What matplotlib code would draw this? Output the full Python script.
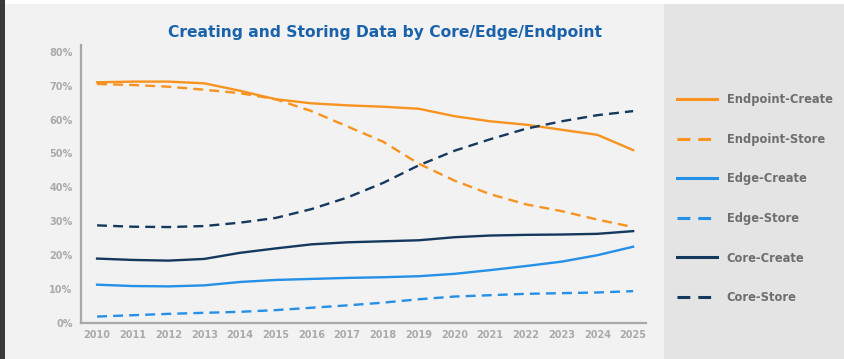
import matplotlib
matplotlib.use("Agg")
import matplotlib.pyplot as plt
from matplotlib.patches import Rectangle

years = list(range(2010, 2026))
endpoint_create = [71.0, 71.2, 71.2, 70.7, 68.5, 66.0, 64.8, 64.2, 63.8, 63.2, 61.0, 59.5, 58.5, 57.0, 55.5, 51.0]
endpoint_store = [70.5, 70.2, 69.7, 68.8, 67.8, 66.0, 62.5, 58.0, 53.5, 47.0, 42.0, 38.0, 35.0, 33.0, 30.5, 28.3]
edge_create = [11.3, 10.9, 10.8, 11.1, 12.1, 12.7, 13.0, 13.3, 13.5, 13.8, 14.5, 15.6, 16.8, 18.1, 20.0, 22.5]
edge_store = [1.9, 2.3, 2.7, 3.0, 3.3, 3.8, 4.5, 5.2, 6.0, 7.0, 7.8, 8.2, 8.6, 8.8, 9.0, 9.4]
core_create = [19.0, 18.6, 18.4, 18.9, 20.7, 22.0, 23.2, 23.8, 24.1, 24.4, 25.3, 25.8, 26.0, 26.1, 26.3, 27.1]
core_store = [28.8, 28.4, 28.3, 28.6, 29.6, 31.0, 33.6, 37.0, 41.3, 46.5, 50.8, 54.2, 57.3, 59.5, 61.3, 62.5]
yticks = [0, 10, 20, 30, 40, 50, 60, 70, 80]
ytick_labels = ["0%", "10%", "20%", "30%", "40%", "50%", "60%", "70%", "80%"]
title = "Creating and Storing Data by Core/Edge/Endpoint"

ORANGE = "#f7931e"
LBLUE = "#2490e8"
NAVY = "#15385e"
FONT = "DejaVu Sans"

W, H = 845, 359
fig = plt.figure(figsize=(W / 100, H / 100), dpi=100)
fig.patch.set_facecolor("#f2f2f2")

def fx(px):
    return px / W

def fy(py):
    return 1 - py / H

# background panels
fig.patches.append(Rectangle((fx(664), 0), 1 - fx(664), fy(4), transform=fig.transFigure,
                             facecolor="#e4e4e4", edgecolor="none", zorder=0))
fig.patches.append(Rectangle((0, fy(4)), 1, 1 - fy(4), transform=fig.transFigure,
                             facecolor="#ffffff", edgecolor="none", zorder=0))
fig.patches.append(Rectangle((0, 0), fx(5), 1, transform=fig.transFigure,
                             facecolor="#3a3a3a", edgecolor="none", zorder=1))

ax = fig.add_axes([fx(81), fy(323), fx(646) - fx(81), fy(45) - fy(323)])
ax.set_facecolor("none")

dash = (0, (4.2, 2.6))
lw = 1.7
series = [
    ("Endpoint-Create", endpoint_create, ORANGE, "-"),
    ("Endpoint-Store", endpoint_store, ORANGE, dash),
    ("Edge-Create", edge_create, LBLUE, "-"),
    ("Edge-Store", edge_store, LBLUE, dash),
    ("Core-Create", core_create, NAVY, "-"),
    ("Core-Store", core_store, NAVY, dash),
]
handles = []
for name, vals, col, ls in series:
    h, = ax.plot(years, vals, color=col, linestyle=ls, linewidth=lw, label=name)
    handles.append(h)

ax.set_xlim(2010 - 0.45, 2025 + 0.36)
ax.set_ylim(0, 82)
ax.set_xticks(years)
ax.set_xticklabels([str(y) for y in years])
ax.set_yticks(yticks)
ax.set_yticklabels(ytick_labels)
for s in ["top", "right"]:
    ax.spines[s].set_visible(False)
for s in ["left", "bottom"]:
    ax.spines[s].set_color("#a8a8a8")
    ax.spines[s].set_linewidth(1.6)
ax.tick_params(length=0, colors="#aaaaaa", labelsize=7.0)
ax.tick_params(axis="y", pad=6)
ax.tick_params(axis="x", pad=5)
for lab in ax.get_xticklabels() + ax.get_yticklabels():
    lab.set_fontweight("bold")
    lab.set_fontfamily(FONT)

fig.text(fx(385), fy(33), title, ha="center", va="center", fontsize=11.2,
         fontweight="bold", color="#1a62aa", family=FONT)

leg = fig.legend(handles=handles, loc="upper left", bbox_to_anchor=(fx(677), fy(93)),
                 frameon=False, labelspacing=2.31, handlelength=3.45,
                 handletextpad=0.85, borderaxespad=0, borderpad=0,
                 prop={"family": FONT, "weight": "bold", "size": 8.3})
for t in leg.get_texts():
    t.set_color("#6e6e6e")
for l in leg.get_lines():
    l.set_linewidth(2.2)

fig.savefig("out.png", dpi=100, facecolor=fig.get_facecolor())
